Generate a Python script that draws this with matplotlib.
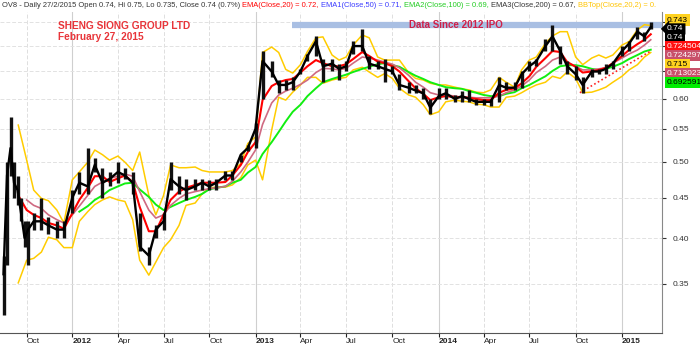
import matplotlib
matplotlib.use("Agg")
import matplotlib.pyplot as plt
import numpy as np
import pandas as pd

plt.rcParams['font.family'] = ['Liberation Sans', 'DejaVu Sans']

# ---- price: weekly right after the IPO, then twice a month
px_dates = (["2011-08-17", "2011-08-24", "2011-08-31", "2011-09-07",
             "2011-09-14", "2011-09-21", "2011-09-28", "2011-10-05"]
            + [d.strftime("%Y-%m-%d") for d in pd.date_range("2011-10-15", "2015-02-15", freq="SMS")]
            + ["2015-02-27"])
px_close = [0.36, 0.48, 0.52, 0.47, 0.46, 0.43, 0.40, 0.41,
            0.42, 0.42, 0.415, 0.41, 0.41,
            0.45, 0.47, 0.465, 0.495, 0.47, 0.475, 0.485, 0.48, 0.47, 0.39, 0.38, 0.41,
            0.42, 0.475, 0.465, 0.46, 0.465, 0.47, 0.465, 0.47, 0.48, 0.48, 0.51, 0.52,
            0.55, 0.67, 0.65, 0.625, 0.625, 0.63, 0.65, 0.68, 0.71, 0.66, 0.665, 0.655,
            0.66, 0.70, 0.70, 0.665, 0.66, 0.655, 0.65, 0.625, 0.62, 0.615, 0.61, 0.585,
            0.605, 0.61, 0.60, 0.605, 0.60, 0.595, 0.595, 0.595, 0.625, 0.62, 0.62, 0.645,
            0.66, 0.67, 0.70, 0.72, 0.69, 0.66, 0.645, 0.625, 0.65, 0.65, 0.655, 0.665,
            0.69, 0.705, 0.73, 0.72, 0.74]
px_high = [0.38, 0.50, 0.57, 0.50, 0.48, 0.45, 0.42, 0.42,
           0.43, 0.45, 0.425, 0.42, 0.42,
           0.46, 0.485, 0.52, 0.505, 0.49, 0.485, 0.50, 0.49, 0.485, 0.43, 0.39, 0.415,
           0.43, 0.50, 0.48, 0.475, 0.475, 0.475, 0.474, 0.475, 0.487, 0.487, 0.51, 0.525,
           0.56, 0.69, 0.67, 0.635, 0.635, 0.64, 0.655, 0.685, 0.72, 0.675, 0.675, 0.665,
           0.67, 0.71, 0.735, 0.68, 0.67, 0.675, 0.66, 0.645, 0.63, 0.625, 0.62, 0.60,
           0.62, 0.62, 0.607, 0.614, 0.615, 0.60, 0.60, 0.60, 0.64, 0.63, 0.63, 0.65,
           0.67, 0.675, 0.715, 0.745, 0.70, 0.67, 0.66, 0.64, 0.655, 0.655, 0.665, 0.67,
           0.70, 0.71, 0.74, 0.73, 0.75]
px_low = [0.32, 0.37, 0.48, 0.45, 0.44, 0.42, 0.39, 0.37,
          0.41, 0.41, 0.405, 0.40, 0.40,
          0.43, 0.455, 0.455, 0.485, 0.45, 0.465, 0.47, 0.475, 0.455, 0.385, 0.37, 0.40,
          0.41, 0.46, 0.455, 0.447, 0.46, 0.46, 0.46, 0.46, 0.474, 0.474, 0.50, 0.515,
          0.52, 0.60, 0.64, 0.61, 0.615, 0.615, 0.645, 0.67, 0.68, 0.63, 0.65, 0.635,
          0.65, 0.685, 0.69, 0.655, 0.655, 0.63, 0.645, 0.615, 0.61, 0.61, 0.60, 0.575,
          0.60, 0.60, 0.595, 0.595, 0.595, 0.59, 0.59, 0.588, 0.595, 0.615, 0.615, 0.62,
          0.65, 0.66, 0.69, 0.69, 0.665, 0.645, 0.635, 0.61, 0.64, 0.645, 0.645, 0.655,
          0.68, 0.69, 0.715, 0.71, 0.735]

# ---- indicator lines, read twice a month
ind_dates = ([d.strftime("%Y-%m-%d") for d in pd.date_range("2011-09-15", "2015-02-15", freq="SMS")]
             + ["2015-02-27"])
nan = np.nan
ema20 = [0.453, 0.434, 0.428, 0.424, 0.418, 0.415, 0.411,
         0.430, 0.447, 0.463, 0.479, 0.479, 0.471, 0.476, 0.480, 0.471, 0.438, 0.408, 0.408,
         0.428, 0.447, 0.458, 0.463, 0.467, 0.470, 0.470, 0.470, 0.471, 0.480, 0.495, 0.514,
         0.529, 0.598, 0.623, 0.630, 0.634, 0.636, 0.648, 0.660, 0.672, 0.666, 0.660, 0.660,
         0.664, 0.674, 0.688, 0.680, 0.669, 0.666, 0.660, 0.650, 0.632, 0.619, 0.609, 0.598,
         0.603, 0.605, 0.603, 0.603, 0.602, 0.600, 0.598, 0.598, 0.611, 0.616, 0.619, 0.628,
         0.641, 0.659, 0.676, 0.690, 0.688, 0.668, 0.659, 0.648, 0.650, 0.653, 0.657, 0.666,
         0.680, 0.692, 0.704, 0.713, 0.7245]
ema50 = [nan, 0.447, 0.440, 0.436, 0.428, 0.422, 0.418,
         0.428, 0.439, 0.453, 0.465, 0.471, 0.476, 0.479, 0.482, 0.479, 0.458, 0.434, 0.424,
         0.428, 0.440, 0.449, 0.455, 0.458, 0.460, 0.462, 0.463, 0.465, 0.472, 0.485, 0.499,
         0.517, 0.557, 0.593, 0.607, 0.614, 0.619, 0.626, 0.634, 0.648, 0.656, 0.655, 0.653,
         0.656, 0.666, 0.678, 0.676, 0.672, 0.668, 0.664, 0.657, 0.643, 0.630, 0.621, 0.611,
         0.607, 0.607, 0.605, 0.603, 0.603, 0.602, 0.602, 0.602, 0.605, 0.611, 0.616, 0.623,
         0.634, 0.648, 0.660, 0.672, 0.678, 0.668, 0.660, 0.653, 0.653, 0.655, 0.657, 0.666,
         0.676, 0.684, 0.692, 0.702, 0.713]
ema100 = [nan, nan, nan, nan, nan, nan, nan,
          nan, 0.432, 0.439, 0.447, 0.453, 0.460, 0.465, 0.469, 0.470, 0.461, 0.451, 0.441,
          0.434, 0.438, 0.443, 0.447, 0.451, 0.455, 0.461, 0.463, 0.465, 0.470, 0.474, 0.484,
          0.492, 0.511, 0.529, 0.545, 0.562, 0.578, 0.590, 0.605, 0.619, 0.630, 0.636, 0.640,
          0.644, 0.649, 0.655, 0.659, 0.664, 0.666, 0.662, 0.659, 0.649, 0.642, 0.636, 0.630,
          0.625, 0.621, 0.619, 0.618, 0.614, 0.611, 0.607, 0.605, 0.605, 0.609, 0.612, 0.619,
          0.625, 0.632, 0.641, 0.651, 0.660, 0.662, 0.662, 0.660, 0.655, 0.653, 0.655, 0.659,
          0.666, 0.674, 0.682, 0.689, 0.6926]
bb_top = [0.556, 0.502, 0.460, 0.449, 0.446, 0.434, 0.418,
          0.474, 0.485, 0.499, 0.517, 0.510, 0.502, 0.508, 0.499, 0.487, 0.514, 0.453, 0.428,
          0.453, 0.495, 0.491, 0.491, 0.492, 0.487, 0.485, 0.485, 0.485, 0.487, 0.497, 0.527,
          0.537, 0.687, 0.698, 0.687, 0.654, 0.647, 0.663, 0.689, 0.717, 0.719, 0.682, 0.672,
          0.678, 0.702, 0.723, 0.717, 0.678, 0.672, 0.672, 0.672, 0.648, 0.637, 0.634, 0.628,
          0.625, 0.625, 0.621, 0.618, 0.616, 0.612, 0.611, 0.616, 0.639, 0.630, 0.621, 0.653,
          0.672, 0.678, 0.706, 0.721, 0.730, 0.730, 0.678, 0.663, 0.676, 0.682, 0.676, 0.682,
          0.702, 0.709, 0.734, 0.745, 0.743]
bb_bot = [0.351, 0.375, 0.377, 0.384, 0.401, 0.398, 0.389,
          0.389, 0.420, 0.432, 0.441, 0.447, 0.451, 0.447, 0.445, 0.422, 0.375, 0.359, 0.373,
          0.389, 0.398, 0.415, 0.440, 0.443, 0.455, 0.463, 0.464, 0.464, 0.467, 0.477, 0.495,
          0.502, 0.474, 0.548, 0.603, 0.598, 0.612, 0.625, 0.639, 0.639, 0.628, 0.634, 0.637,
          0.639, 0.653, 0.658, 0.649, 0.639, 0.646, 0.637, 0.619, 0.607, 0.603, 0.590, 0.573,
          0.578, 0.595, 0.598, 0.596, 0.595, 0.591, 0.590, 0.586, 0.586, 0.603, 0.605, 0.611,
          0.619, 0.625, 0.630, 0.641, 0.637, 0.649, 0.637, 0.611, 0.612, 0.616, 0.621, 0.630,
          0.641, 0.653, 0.663, 0.678, 0.687]

trend_dates = ["2014-10-09", "2015-02-27"]
trend_vals = [0.611, 0.690]
ipo_line_start = "2013-03-14"
ipo_line_level = 0.745

yticks = [0.35, 0.40, 0.45, 0.50, 0.55, 0.60, 0.65, 0.70, 0.75]
tags = [("0.743", "#ffd21f", "black"), ("0.74", "black", "white"), ("0.74", "black", "white"),
        ("0.724504", "#ff1010", "white"), ("0.724297", "#c8506a", "white"),
        ("0.715", "#ffd21f", "black"), ("0.713023", "#c8506a", "white"),
        ("0.692591", "#00ee00", "black")]
header = [("OV8 - Daily 27/2/2015 Open 0.74, Hi 0.75, Lo 0.735, Close 0.74 (0.7%) ", "#333333"),
          ("EMA(Close,20) = 0.72, ", "#ff0000"), ("EMA1(Close,50) = 0.71, ", "#3b3bff"),
          ("EMA2(Close,100) = 0.69, ", "#22cc22"), ("EMA3(Close,200) = 0.67, ", "#333333"),
          ("BBTop(Close,20,2) = 0.", "#ffc400")]

# trading-day axis
days = pd.bdate_range("2011-08-17", "2015-02-27")
def pos(ds):
    return days.searchsorted(pd.to_datetime(ds))

fig = plt.figure(figsize=(7.0, 3.44), dpi=100)
ax = fig.add_axes([0.0, 0.032, 0.9457, 0.933])
ax.set_yscale("log")
ax.set_ylim(0.3033, 0.773)
ax.set_xlim(-5, 938)

# grid
qs = pd.date_range("2011-10-01", "2015-01-01", freq="QS")
qpos = pos(qs)
for d, p in zip(qs, qpos):
    if d.month == 1:
        ax.axvline(p, color="#cfcfcf", lw=0.8, zorder=0)
    else:
        ax.axvline(p, color="#dedede", lw=0.7, ls=(0, (4, 2)), zorder=0)
for v in yticks:
    ax.axhline(v, color="#e2e2e2", lw=0.7, ls=(0, (4, 2)), zorder=0)

# IPO band
ax.hlines(ipo_line_level, pos([ipo_line_start])[0], 938, color="#a9bfe3", lw=4.5, zorder=1)
ax.text(pos(["2013-11-01"])[0], ipo_line_level, "Data Since 2012 IPO", color="#d02048",
        fontsize=7, fontweight="bold", va="center", ha="left", zorder=2)

ix = pos(ind_dates)
ax.plot(ix, bb_top, color="#ffcc00", lw=1.1, zorder=3)
ax.plot(ix, bb_bot, color="#ffcc00", lw=1.1, zorder=3)
ax.plot(ix, ema100, color="#11ee11", lw=1.4, zorder=4)
ax.plot(ix, ema50, color="#cf6a82", lw=1.2, zorder=4)
ax.plot(ix, ema20, color="#ff0000", lw=1.5, zorder=5)

# candles
pxp = pos(px_dates)
ax.vlines(pxp, px_low, px_high, color="#111111", lw=2.4, zorder=6)
ax.plot(pxp, px_close, color="black", lw=1.7, zorder=6)

ax.plot(pos(trend_dates), trend_vals, color="#ff2020", lw=1.2, ls=(0, (1, 1.5)), zorder=5)

# axes styling
for sp in ("top", "left"):
    ax.spines[sp].set_visible(False)
ax.spines["bottom"].set_color("#555555")
ax.spines["right"].set_color("#888888")
ax.yaxis.tick_right()
ax.set_yticks(yticks)
ax.set_yticklabels([f"{v:.2f}" for v in yticks])
ax.yaxis.set_minor_locator(matplotlib.ticker.NullLocator())
ax.tick_params(axis="y", labelsize=6, colors="#333333", length=3, pad=5)
ax.set_xticks(qpos)
ax.set_xticklabels([str(d.year) if d.month == 1 else d.strftime("%b") for d in qs])
ax.tick_params(axis="x", labelsize=6, colors="#222222", length=3, pad=0.5)
for lab, d in zip(ax.get_xticklabels(), qs):
    lab.set_horizontalalignment("left")
    if d.month == 1:
        lab.set_fontweight("bold")

# titles
fig.text(58 / 700, 1 - 26 / 344, "SHENG SIONG GROUP LTD", color="#e8353a", fontsize=7.3,
         fontweight="bold", va="center", ha="left")
fig.text(58 / 700, 1 - 37.5 / 344, "February 27, 2015", color="#e8353a", fontsize=7.3,
         fontweight="bold", va="center", ha="left")

# header line, pieces placed one after another
fig.canvas.draw()
r = fig.canvas.get_renderer()
x = 2 / 700
for s, c in header:
    t = fig.text(x, 1 - 5.5 / 344, s, color=c, fontsize=5.45, va="center", ha="left")
    bb = t.get_window_extent(renderer=r)
    x = bb.x1 / fig.bbox.width

# price tags on the right, stacked
for i, (s, fc, tc) in enumerate(tags):
    yy = 1 - (20 + 8.9 * i) / 344
    style = "larrow,pad=0.25" if i == 1 else "square,pad=0.25"
    fig.text(667 / 700, yy, s, color=tc, fontsize=6, va="center", ha="left",
             bbox=dict(boxstyle=style, fc=fc, ec="none"), zorder=10)

fig.savefig("out.png", dpi=100)
